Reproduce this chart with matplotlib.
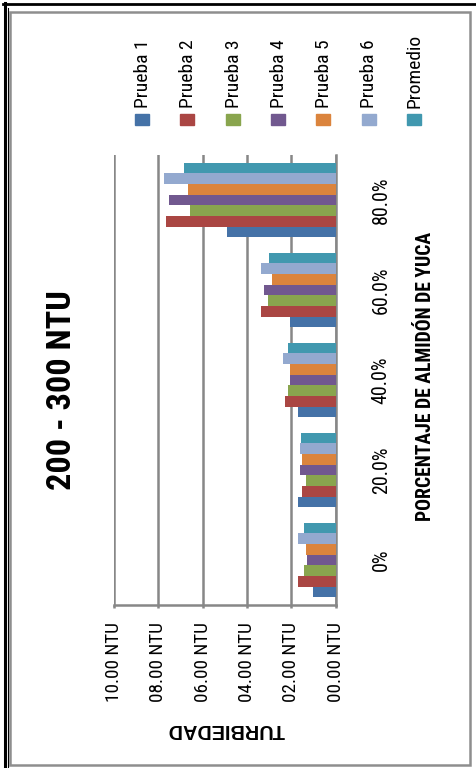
import matplotlib
matplotlib.use("Agg")
import matplotlib.pyplot as plt
from matplotlib.patches import Rectangle
from matplotlib.lines import Line2D
import numpy as np

# turbidity per cassava-starch dose, one list per trial
categorias = ["0%", "20.0%", "40.0%", "60.0%", "80.0%"]
series = ["Prueba 1", "Prueba 2", "Prueba 3", "Prueba 4", "Prueba 5", "Prueba 6", "Promedio"]
prueba1 = [1.04, 1.71, 1.70, 2.06, 4.90]
prueba2 = [1.70, 1.53, 2.29, 3.38, 7.67]
prueba3 = [1.44, 1.35, 2.14, 3.05, 6.57]
prueba4 = [1.28, 1.62, 2.06, 3.22, 7.50]
prueba5 = [1.35, 1.53, 2.06, 2.89, 6.66]
prueba6 = [1.70, 1.62, 2.38, 3.38, 7.75]
promedio = [1.42, 1.56, 2.14, 3.00, 6.84]
valores = [prueba1, prueba2, prueba3, prueba4, prueba5, prueba6, promedio]
ticks_ntu = [0, 2, 4, 6, 8, 10]

colores = ["#4572A7", "#AA4643", "#89A54E", "#71588F", "#DB843D", "#93A9CF", "#4198AF"]
gris = "#878787"
narrow = ["Liberation Sans Narrow", "Roboto Condensed", "DejaVu Sans Condensed",
          "Liberation Sans", "DejaVu Sans"]
ancha = ["Liberation Sans", "DejaVu Sans"]

W, H = 477, 768
fig = plt.figure(figsize=(W / 100, H / 100), dpi=100)
renderer = fig.canvas.get_renderer()


def fx(x):
    return x / W


def fy(y):
    return 1 - y / H


def tam(texto, largo, family, weight="normal"):
    # font size that makes the text run `largo` pixels long
    t = fig.text(0, 0, texto, fontsize=10, family=family, fontweight=weight)
    w = t.get_window_extent(renderer=renderer).width
    t.remove()
    return 10 * largo / w


# chart is laid out turned a quarter turn: categories run upward, NTU grows to the left
ax = fig.add_axes([fx(114), fy(605), (335.7 - 114) / W, 450 / H])
n = len(series)
ancho = 0.833 / n
y = np.arange(len(categorias))
for j, (nombre, vals) in enumerate(zip(series, valores)):
    ax.barh(y + (j - (n - 1) / 2) * ancho, vals, height=ancho,
            color=colores[j], zorder=3)

etiquetas_ntu = [f"{v:05.2f} NTU" for v in ticks_ntu]
fs_tick = tam(etiquetas_ntu[-1], 79, narrow)
fs_cat = tam(categorias[-1], 47, narrow)
fs_ley = tam(series[0], 68, narrow)

ax.set_xlim(10, 0)
ax.set_ylim(-0.5, len(categorias) - 0.5)
ax.set_xticks(ticks_ntu)
ax.set_xticklabels(etiquetas_ntu, rotation=90, family=narrow, fontsize=fs_tick)
ax.grid(axis="x", color=gris, linewidth=1.8, zorder=0)
ax.tick_params(axis="x", length=2.5, width=1.8, color=gris, pad=10)

ax.yaxis.tick_right()
ax.set_yticks(y)
ax.set_yticklabels(categorias, rotation=90, va="center", family=narrow, fontsize=fs_cat)
ax.tick_params(axis="y", length=0, pad=26)

for s in ["top", "left"]:
    ax.spines[s].set_visible(False)
for s in ["bottom", "right"]:
    ax.spines[s].set_color(gris)
    ax.spines[s].set_linewidth(1.8)

titulo = "200 - 300 NTU"
fig.text(fx(62), fy(390), titulo, rotation=90, ha="center", va="center",
         family=narrow, fontweight="bold", fontsize=tam(titulo, 200, narrow, "bold"))
xlabel = "PORCENTAJE DE ALMIDÓN DE YUCA"
fig.text(fx(426), fy(376), xlabel, rotation=90, ha="center", va="center",
         family=narrow, fontweight="bold", fontsize=tam(xlabel, 287, narrow, "bold"))
fig.text(fx(226), fy(729), "TURBIEDAD", rotation=180, ha="center", va="center",
         family=ancha, fontweight="bold", fontsize=tam("TURBIEDAD", 117, ancha, "bold"))

# legend laid out by hand so its entries can stand upright with the chart
for j, nombre in enumerate(series):
    cx = 142 + 45.3 * j
    fig.patches.append(Rectangle((fx(cx - 7), fy(125)), 14 / W, 11 / H,
                                 transform=fig.transFigure, color=colores[j]))
    fig.text(fx(cx + 1), fy(108), nombre, rotation=90, ha="center", va="bottom",
             family=narrow, fontsize=fs_ley)

# frame round the chart
fig.patches.append(Rectangle((fx(10.5), fy(765)), 460 / W, 753 / H,
                             transform=fig.transFigure, fill=False,
                             edgecolor="#8e8e8e", linewidth=1.8))
fig.lines.append(Line2D([fx(3), 1], [fy(4), fy(4)], transform=fig.transFigure,
                        color="black", linewidth=2))
fig.lines.append(Line2D([fx(5), fx(5)], [0, fy(3)], transform=fig.transFigure,
                        color="black", linewidth=2.2))
fig.lines.append(Line2D([fx(8.5), fx(8.5)], [0, fy(8)], transform=fig.transFigure,
                        color="black", linewidth=0.8))

fig.savefig("out.png", dpi=100)
